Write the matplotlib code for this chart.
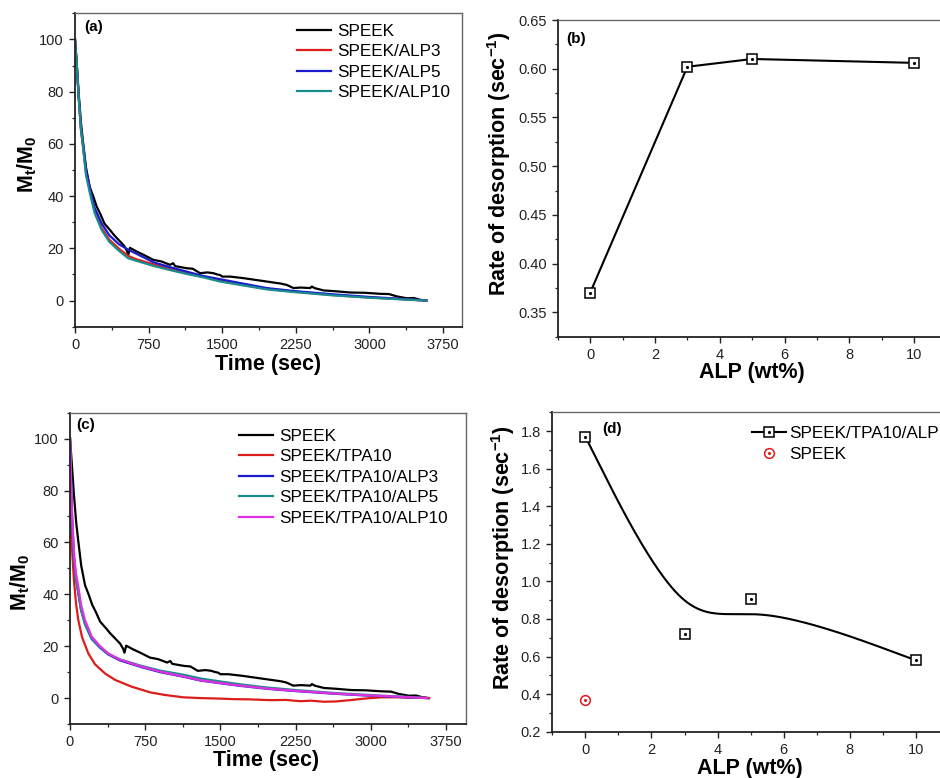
import numpy as np
import matplotlib
matplotlib.use("Agg")
import matplotlib.pyplot as plt
from matplotlib.ticker import MultipleLocator, FixedLocator
from matplotlib.lines import Line2D
from matplotlib.legend_handler import HandlerTuple

plt.rcParams['font.family'] = ['Liberation Sans', 'DejaVu Sans']
plt.rcParams['mathtext.fontset'] = 'custom'
plt.rcParams['mathtext.rm'] = 'Liberation Sans'
plt.rcParams['mathtext.bf'] = 'Liberation Sans:bold'

# ---------------- data: panel (a) ----------------
t_a = [0, 17, 37, 61, 78, 112, 160, 200, 272, 350, 450, 543, 628, 798, 968,
       1138, 1308, 1478, 1700, 1954, 2250, 2634, 3000, 3314, 3580]
a_alp10 = [100, 90.9, 78, 65.3, 60.2, 48, 39.8, 33.5, 27, 22.5, 19, 16.2, 15.2,
           13.3, 11.7, 10.2, 8.9, 7.3, 5.9, 4.3, 3.2, 2.0, 1.1, 0.5, 0]
a_alp3 = [100, 90.9, 78, 65.3, 60.2, 49, 40.5, 34.5, 27.8, 23.3, 19.8, 17.1, 15.8,
          13.9, 12.1, 10.5, 9.2, 7.7, 6.1, 4.5, 3.4, 2.1, 1.2, 0.6, 0]
a_alp5 = [100, 91, 78.5, 66, 61, 50, 41.5, 35.5, 29.5, 25, 21.5, 19.5, 17.9,
          14.7, 12.8, 11.1, 9.4, 8.2, 6.6, 4.8, 3.6, 2.4, 1.4, 0.7, 0]

# SPEEK (same membrane in panels a and c)
t_speek = [0, 17, 37, 61, 78, 112, 150, 187, 221, 260, 300, 357, 400, 450, 500,
           530, 543, 560, 628, 700, 798, 880, 968, 1000, 1020, 1138, 1200, 1274,
           1350, 1410, 1450, 1478, 1500, 1580, 1716, 1954, 2100, 2158, 2226, 2300,
           2396, 2413, 2440, 2532, 2650, 2804, 2950, 3110, 3200, 3280, 3382, 3450,
           3518, 3580]
speek = [100, 91, 79.5, 68, 62, 51, 43.5, 39.8, 36, 33, 29.5, 27, 25, 23, 21,
         19, 17.5, 20.2, 18.8, 17.5, 15.6, 15, 13.7, 14.3, 13.2, 12.4, 12.2, 10.5,
         10.8, 10.5, 10.0, 9.8, 9.2, 9.2, 8.6, 7.3, 6.5, 6.0, 4.8, 5.0,
         4.8, 5.4, 4.8, 3.9, 3.6, 3.1, 3.0, 2.6, 2.5, 1.6, 0.9, 1.0,
         0.3, 0]

# ---------------- data: panel (c) ----------------
t_tpa = [0, 5, 12, 23, 40, 60, 83, 120, 183, 250, 349, 450, 615, 800, 947, 1130,
         1300, 1500, 1630, 1800, 2000, 2150, 2295, 2400, 2530, 2650, 2790, 2960,
         3100, 3290, 3400, 3525, 3580]
tpa10 = [100, 80, 65, 55.8, 45, 36.5, 30, 23.5, 17.2, 13, 9.5, 7, 4.4, 2.2, 1.2, 0.3,
         0, -0.2, -0.4, -0.5, -0.8, -0.7, -1.2, -1.0, -1.4, -1.3, -0.8, -0.1,
         0.3, 0.3, 0.1, 0.2, 0]

t_c = [0, 10, 20, 40, 60, 83, 110, 150, 216, 300, 382, 500, 715, 900, 1147,
       1296, 1500, 1700, 1960, 2250, 2625, 2900, 3124, 3350, 3560]
tpa_alp3 = [100, 84, 70, 53.5, 45.5, 40.5, 34, 28.5, 22.8, 19.4, 16.8, 14.5, 11.9,
            10.0, 8.1, 6.8, 5.7, 4.7, 3.6, 2.7, 1.7, 1.1, 0.7, 0.3, 0]
tpa_alp5 = [100, 84, 70, 53.5, 45.5, 40.5, 34, 28.5, 23, 19.6, 17.0, 14.9, 12.4,
            10.6, 8.9, 7.6, 6.4, 5.3, 4.1, 3.1, 2.0, 1.4, 0.9, 0.5, 0]
tpa_alp10 = [100, 85, 72, 55.8, 48, 42.9, 36, 30, 23.7, 20, 17.2, 14.8, 12.1,
             10.2, 8.2, 6.9, 5.8, 4.8, 3.7, 2.8, 1.8, 1.2, 0.8, 0.4, 0]

# ---------------- data: panels (b), (d) ----------------
alp_wt = [0, 3, 5, 10]
rate_b = [0.370, 0.602, 0.610, 0.606]
rate_d = [1.77, 0.72, 0.905, 0.58]
speek_wt = [0]
speek_rate = [0.37]

BLACK = '#000000'
RED = '#dd1c1c'
BLUE = '#1a1ad0'
TEAL = '#1b8c8c'
MAGENTA = '#e030e0'
LW = 1.6

fig = plt.figure(figsize=(9.4, 7.78), dpi=100)
W, H = 940.0, 778.0


def add_ax(left, right, top, bottom):
    return fig.add_axes([left / W, 1 - bottom / H, (right - left) / W, (bottom - top) / H])


def style(ax, xmaj, xmin, ymaj_locator, ymin, fmt=None):
    ax.xaxis.set_major_locator(xmaj)
    ax.xaxis.set_minor_locator(MultipleLocator(xmin))
    ax.yaxis.set_major_locator(ymaj_locator)
    ax.yaxis.set_minor_locator(MultipleLocator(ymin))
    ax.tick_params(which='both', direction='out', top=False, right=False,
                   colors='#222222', labelsize=10.5)
    ax.tick_params(which='major', length=4.5, width=1.0)
    ax.tick_params(which='minor', length=2.5, width=0.9)
    for s in ['left', 'bottom']:
        ax.spines[s].set_color('#222222')
        ax.spines[s].set_linewidth(1.3)
    for s in ['top', 'right']:
        ax.spines[s].set_color('#666666')
        ax.spines[s].set_linewidth(1.0)
    if fmt:
        ax.yaxis.set_major_formatter(fmt)


def labels(ax, xl, yl, xpos, ypos):
    ax.set_xlabel(xl, fontsize=15.5, fontweight='bold')
    ax.set_ylabel(yl, fontsize=15.5, fontweight='bold')
    ax.xaxis.set_label_coords(*xpos)
    ax.yaxis.set_label_coords(*ypos)
    ax.xaxis.label.set_va('center')
    ax.yaxis.label.set_va('center')


def bspline3(xs, ys, n=100):
    # uniform cubic B-spline with the data points as control points,
    # end points tripled so the curve starts and ends on them
    P = np.column_stack([xs, ys]).astype(float)
    Q = np.vstack([P[0], P[0], P, P[-1], P[-1]])
    u = np.linspace(0, 1, n)[:, None]
    b0 = (1 - u) ** 3 / 6
    b1 = (3 * u ** 3 - 6 * u ** 2 + 4) / 6
    b2 = (-3 * u ** 3 + 3 * u ** 2 + 3 * u + 1) / 6
    b3 = u ** 3 / 6
    segs = [b0 * Q[i] + b1 * Q[i + 1] + b2 * Q[i + 2] + b3 * Q[i + 3]
            for i in range(len(Q) - 3)]
    curve = np.vstack(segs)
    return curve[:, 0], curve[:, 1]


leg_kw = dict(frameon=False, fontsize=12.3, handlelength=2.0, handletextpad=0.35,
              labelspacing=0.32, borderpad=0, borderaxespad=0, loc='upper left')

# ---------------- (a) ----------------
axa = add_ax(75, 462, 13, 327)
axa.plot(t_speek, speek, color=BLACK, lw=LW, label='SPEEK')
axa.plot(t_a, a_alp3, color=RED, lw=LW, label='SPEEK/ALP3')
axa.plot(t_a, a_alp5, color=BLUE, lw=LW, label='SPEEK/ALP5')
axa.plot(t_a, a_alp10, color=TEAL, lw=LW, label='SPEEK/ALP10')
axa.set_xlim(0, 3943)
axa.set_ylim(-10.1, 110.1)
style(axa, MultipleLocator(750), 375, MultipleLocator(20), 10)
labels(axa, 'Time (sec)', r'$\mathbf{M_t/M_0}$', (0.499, -0.118), (-0.124, 0.52))
axa.text(0.024, 0.978, '(a)', transform=axa.transAxes, fontsize=11, fontweight='bold',
         va='top', ha='left')
axa.legend(bbox_to_anchor=(0.574, 0.965), **leg_kw)

# ---------------- (b) ----------------
axb = add_ax(557.7, 946.7, 20, 336.7)
axb.plot(alp_wt, rate_b, color=BLACK, lw=1.5, marker='s', ms=6.5, mfc='white',
         mec=BLACK, mew=1.1)
axb.plot(alp_wt, rate_b, ls='none', marker='.', ms=2.5, color=BLACK)
axb.set_xlim(-1, 11)
axb.set_ylim(0.325, 0.65)
style(axb, MultipleLocator(2), 1,
      FixedLocator([0.35, 0.40, 0.45, 0.50, 0.55, 0.60, 0.65]), 0.025,
      fmt=matplotlib.ticker.FormatStrFormatter('%.2f'))
labels(axb, 'ALP (wt%)', r'Rate of desorption (sec$^{\mathbf{-1}}$)',
       (0.499, -0.112), (-0.151, 0.548))
axb.text(0.022, 0.962, '(b)', transform=axb.transAxes, fontsize=11, fontweight='bold',
         va='top', ha='left')

# ---------------- (c) ----------------
axc = add_ax(70, 465.7, 412.7, 724.3)
axc.plot(t_speek, speek, color=BLACK, lw=LW, label='SPEEK')
axc.plot(t_tpa, tpa10, color=RED, lw=LW, label='SPEEK/TPA10')
axc.plot(t_c, tpa_alp3, color=BLUE, lw=LW, label='SPEEK/TPA10/ALP3')
axc.plot(t_c, tpa_alp5, color=TEAL, lw=LW, label='SPEEK/TPA10/ALP5')
axc.plot(t_c, tpa_alp10, color=MAGENTA, lw=LW, label='SPEEK/TPA10/ALP10')
axc.set_xlim(0, 3946)
axc.set_ylim(-10.1, 110)
style(axc, MultipleLocator(750), 375, MultipleLocator(20), 10)
labels(axc, 'Time (sec)', r'$\mathbf{M_t/M_0}$', (0.495, -0.117), (-0.126, 0.455))
axc.text(0.017, 0.983, '(c)', transform=axc.transAxes, fontsize=11, fontweight='bold',
         va='top', ha='left')
axc.legend(bbox_to_anchor=(0.427, 0.948), **leg_kw)

# ---------------- (d) ----------------
axd = add_ax(552.3, 949, 412.3, 731.7)
sx, sy = bspline3(alp_wt, rate_d)
axd.plot(sx, sy, color=BLACK, lw=1.5)
axd.plot(alp_wt, rate_d, ls='none', marker='s', ms=6.5, mfc='white', mec=BLACK, mew=1.1)
axd.plot(alp_wt, rate_d, ls='none', marker='.', ms=2.5, color=BLACK)
axd.plot(speek_wt, speek_rate, ls='none', marker='o', ms=7, mfc='white', mec=RED, mew=1.1)
axd.plot(speek_wt, speek_rate, ls='none', marker='.', ms=2.5, color=RED)
axd.set_xlim(-1, 11)
axd.set_ylim(0.2, 1.9)
style(axd, MultipleLocator(2), 1, MultipleLocator(0.2), 0.1,
      fmt=matplotlib.ticker.FormatStrFormatter('%.1f'))
labels(axd, 'ALP (wt%)', r'Rate of desorption (sec$^{\mathbf{-1}}$)',
       (0.498, -0.115), (-0.124, 0.545))
axd.text(0.127, 0.97, '(d)', transform=axd.transAxes, fontsize=11, fontweight='bold',
         va='top', ha='left')
h1 = (Line2D([], [], color=BLACK, lw=1.5, marker='s', ms=6.5, mfc='white', mec=BLACK, mew=1.1),
      Line2D([], [], ls='none', marker='.', ms=2.5, color=BLACK))
h2 = (Line2D([], [], ls='none', marker='o', ms=7, mfc='white', mec=RED, mew=1.1),
      Line2D([], [], ls='none', marker='.', ms=2.5, color=RED))
axd.legend([h1, h2], ['SPEEK/TPA10/ALP', 'SPEEK'], bbox_to_anchor=(0.5027, 0.957),
           handler_map={tuple: HandlerTuple(ndivide=1)},
           **{**leg_kw, 'handletextpad': 0.2})

fig.savefig('out.png', dpi=100)
